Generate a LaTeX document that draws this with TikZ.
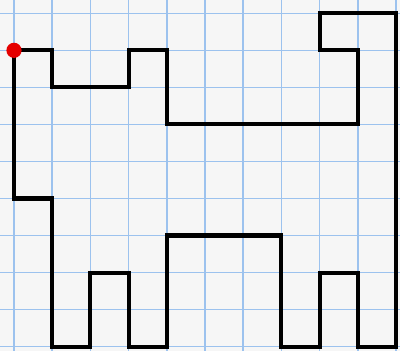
\documentclass[tikz,border=0pt]{standalone}
\usepackage{xcolor}
\usepackage{tikz}
\usetikzlibrary{positioning,calc}

\definecolor{paper}{HTML}{F6F6F6}
\definecolor{gridblue}{HTML}{9CC2EE}

\begin{document}
\begin{tikzpicture}[
    x={(0.955cm,0)}, y={(0,-0.926cm)},
    gridline/.style={draw=gridblue, line width=1pt},
    outline/.style={draw=black, line width=2.9pt, line join=miter},
    startdot/.style={fill=red!90!black}
]

% Paper
\useasboundingbox (-0.3665,-0.359) rectangle (10.105,9.117);
\fill[paper] (-0.3665,-0.359) rectangle (10.105,9.117);

% Grid
\begin{scope}
\clip (-0.3665,-0.359) rectangle (10.105,9.117);
\foreach \i in {-1,...,11}
    \draw[gridline] (\i,-1) -- (\i,10);
\foreach \j in {-1,...,10}
    \draw[gridline] (-1,\j) -- (11,\j);
\end{scope}

% Figure
\draw[outline] (0,1) -- (1,1) -- (1,2) -- (3,2) -- (3,1) -- (4,1) -- (4,3)
    -- (9,3) -- (9,1) -- (8,1) -- (8,0) -- (10,0) -- (10,9) -- (9,9)
    -- (9,7) -- (8,7) -- (8,9) -- (7,9) -- (7,6) -- (4,6) -- (4,9)
    -- (3,9) -- (3,7) -- (2,7) -- (2,9) -- (1,9) -- (1,5) -- (0,5) -- cycle;

% Start point
\fill[startdot] (0,1) circle (0.19cm);

\end{tikzpicture}
\end{document}
